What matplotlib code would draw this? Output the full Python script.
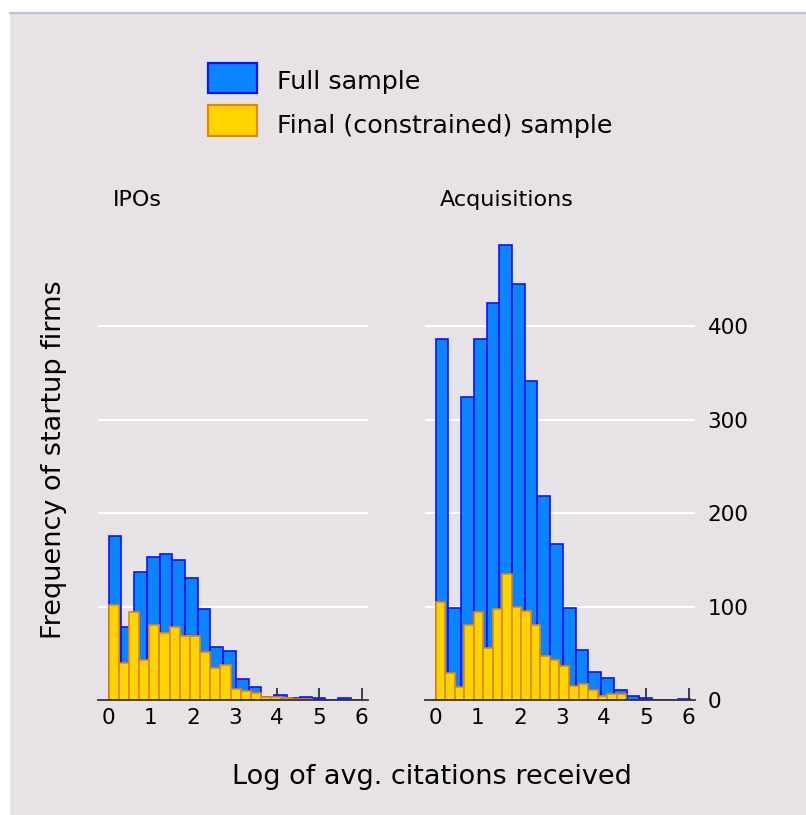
import numpy as np
import matplotlib
matplotlib.use("Agg")
import matplotlib.pyplot as plt
from matplotlib.patches import Rectangle

# histogram counts (20 bins each)
full_width = 0.302
ipo_full = [176, 78, 137, 153, 156, 150, 131, 97, 57, 52, 22, 14, 3, 5, 2, 3.5, 2, 0, 2, 0]
acq_full = [386, 99, 324, 387, 425, 487, 445, 342, 218, 167, 99, 54, 30, 24, 10.5, 4.5, 2.5, 0, 0, 1.5]

ipo_final_width = 0.241
ipo_final = [102, 40, 94, 43, 80, 72, 78, 69, 68, 51, 34, 37, 12, 10, 7.5, 3, 3, 2.5, 1.5, 1.5]
acq_final_width = 0.226
acq_final = [105, 29, 13.6, 80, 94, 56, 97, 135, 100, 95, 80, 47.5, 43, 36.4, 15, 17, 10.4, 4, 6, 6]

panels = ["IPOs", "Acquisitions"]
legend_labels = ["Full sample", "Final (constrained) sample"]
xticks = [0, 1, 2, 3, 4, 5, 6]
yticks = [0, 100, 200, 300, 400]

bg = "#e7e2e6"
blue_face, blue_edge = "#0a84ff", "#1010ff"
gold_face, gold_edge = "#ffd400", "#e8860a"

W, H = 806, 815
fig = plt.figure(figsize=(W / 100, H / 100), dpi=100)
fig.patch.set_facecolor("white")
fig.add_artist(Rectangle((10 / W, 0), 1, (H - 12) / H, transform=fig.transFigure,
                         facecolor=bg, edgecolor="none", zorder=-10))
fig.add_artist(plt.Line2D([10 / W, 1], [(H - 12.5) / H] * 2, transform=fig.transFigure,
                          color="#b4c6d6", lw=1.5, zorder=-9))

ax_bottom = (H - 700) / H
ax_height = 467 / H
ax1 = fig.add_axes([98 / W, ax_bottom, 270 / W, ax_height])
ax2 = fig.add_axes([425 / W, ax_bottom, 270 / W, ax_height])

data = [(ipo_full, ipo_final, ipo_final_width), (acq_full, acq_final, acq_final_width)]
for ax, name, (full, final, fw) in zip([ax1, ax2], panels, data):
    ax.set_facecolor("none")
    left_full = np.arange(len(full)) * full_width
    left_final = np.arange(len(final)) * fw
    ax.bar(left_full, full, width=full_width, align="edge", color=blue_face,
           edgecolor=blue_edge, linewidth=1.2, zorder=2)
    ax.bar(left_final, final, width=fw, align="edge", color=gold_face,
           edgecolor=gold_edge, linewidth=1.2, zorder=3)
    ax.set_xlim(-0.25, 6.15)
    ax.set_ylim(0, 500)
    ax.set_xticks(xticks)
    ax.set_yticks(yticks)
    ax.yaxis.grid(True, color="white", linewidth=1.5, zorder=0)
    ax.set_axisbelow(True)
    for s in ["top", "left", "right"]:
        ax.spines[s].set_visible(False)
    ax.spines["bottom"].set_color("#333333")
    ax.spines["bottom"].set_linewidth(1.3)
    ax.spines["bottom"].set_zorder(4)
    ax.tick_params(axis="x", direction="in", length=9, width=1.2, color="#222222",
                   labelsize=15.5, pad=6)
    ax.tick_params(axis="y", length=0, labelsize=15.5)
    ax.text(15 / 270, (700 - 206.5) / 467, name, transform=ax.transAxes,
            fontsize=16, ha="left", va="baseline")

ax1.tick_params(axis="y", labelleft=False)
ax2.yaxis.tick_right()
ax2.tick_params(axis="y", pad=9)

fig.text(54 / W, (H - 460) / H, "Frequency of startup firms", rotation=90,
         fontsize=19.5, ha="center", va="center")
fig.text(431.5 / W, (H - 777) / H, "Log of avg. citations received",
         fontsize=19.5, ha="center", va="center")

# legend, drawn by hand in pixel positions
for i, (lab, fc, ec) in enumerate(zip(legend_labels, [blue_face, gold_face], [blue_edge, gold_edge])):
    top = 62.5 + i * 42.5
    fig.add_artist(Rectangle((208 / W, (H - top - 30.5) / H), 49 / W, 30.5 / H,
                             transform=fig.transFigure, facecolor=fc, edgecolor=ec, linewidth=1.6))
    fig.text(277 / W, (H - 89.3 - i * 43.4) / H, lab, fontsize=18.3, ha="left", va="baseline")

fig.savefig("out.png", dpi=100)
